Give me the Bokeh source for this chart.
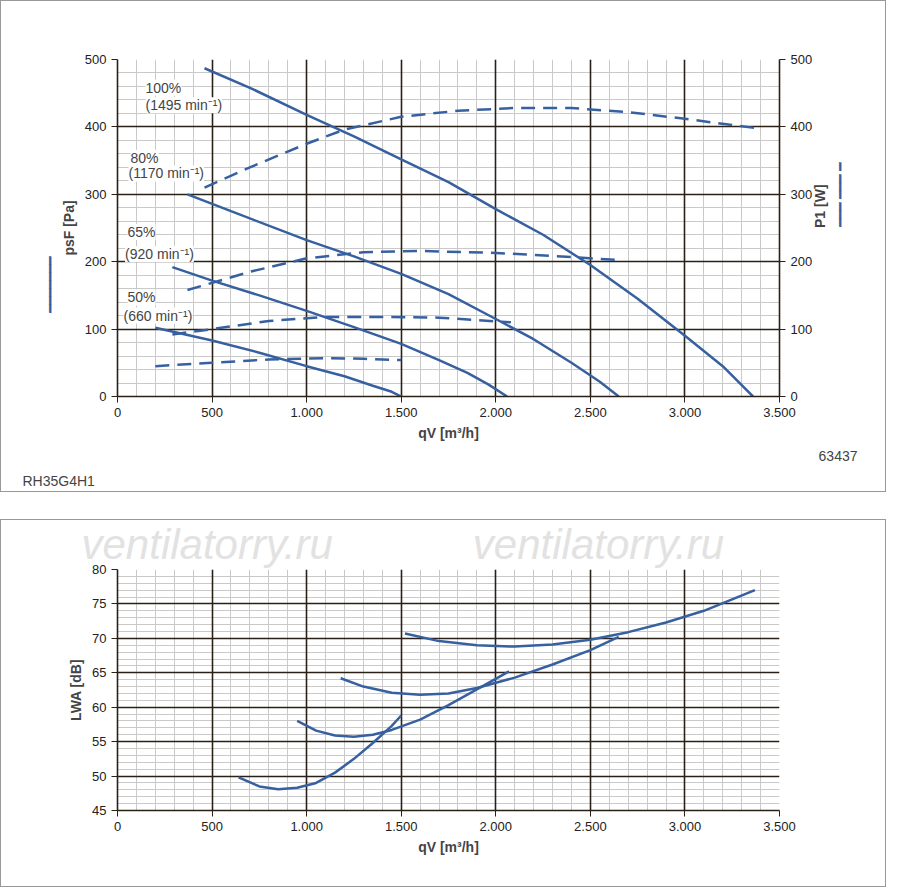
import math
from bokeh.plotting import figure
from bokeh.layouts import column
from bokeh.models import Label, LinearAxis, Range1d, FixedTicker, Grid, Title
from bokeh.embed import file_html
from bokeh.resources import INLINE

# pressure curves (solid)
p100_x = [460, 700, 1000, 1250, 1500, 1750, 2000, 2250, 2500, 2750, 3000, 3200, 3360]
p100_y = [487, 458, 418, 386, 352, 318, 278, 240, 195, 145, 90, 45, 0]
p80_x = [370, 600, 1000, 1250, 1500, 1750, 2000, 2200, 2400, 2550, 2650]
p80_y = [300, 275, 232, 208, 182, 152, 115, 85, 50, 22, 0]
p65_x = [290, 500, 750, 1000, 1250, 1500, 1700, 1850, 1960, 2060]
p65_y = [192, 172, 150, 127, 103, 78, 54, 35, 18, 0]
p50_x = [200, 500, 750, 1000, 1200, 1350, 1450, 1500]
p50_y = [102, 83, 65, 45, 30, 16, 7, 0]
# power curves (dashed)
w100_x = [460, 700, 1000, 1200, 1500, 1800, 2100, 2400, 2700, 3000, 3380]
w100_y = [310, 340, 375, 396, 415, 424, 428, 428, 422, 412, 398]
w80_x = [370, 700, 1000, 1300, 1600, 2000, 2400, 2670]
w80_y = [158, 185, 205, 214, 216, 213, 207, 202]
w65_x = [290, 500, 800, 1100, 1400, 1700, 2080]
w65_y = [92, 100, 112, 118, 118, 117, 110]
w50_x = [200, 500, 800, 1100, 1300, 1500]
w50_y = [45, 50, 55, 57, 56, 54]
# sound power
s1_x = [1520, 1700, 1900, 2100, 2300, 2500, 2700, 2900, 3100, 3370]
s1_y = [70.7, 69.6, 69.0, 68.8, 69.1, 69.8, 70.9, 72.3, 74.0, 77.0]
s2_x = [1180, 1300, 1450, 1600, 1750, 1900, 2100, 2300, 2500, 2650]
s2_y = [64.2, 63.0, 62.1, 61.8, 62.0, 62.8, 64.3, 66.2, 68.3, 70.2]
s3_x = [950, 1050, 1150, 1250, 1350, 1450, 1600, 1750, 1900, 2070]
s3_y = [58.0, 56.6, 55.9, 55.7, 56.0, 56.7, 58.2, 60.3, 62.6, 65.2]
s4_x = [640, 750, 850, 950, 1050, 1150, 1250, 1350, 1450, 1500]
s4_y = [49.8, 48.5, 48.1, 48.3, 49.0, 50.5, 52.5, 54.8, 57.3, 58.8]

speed_labels = ["100%", "(1495 min⁻¹)", "80%", "(1170 min⁻¹)",
                "65%", "(920 min⁻¹)", "50%", "(660 min⁻¹)"]
xticks = [0, 500, 1000, 1500, 2000, 2500, 3000, 3500]
xlabels = ["0", "500", "1.000", "1.500", "2.000", "2.500", "3.000", "3.500"]
BLUE = "#3760a0"
FONT = "Liberation Sans"
MAJ = "#2a2016"
MIN = "#c9c9c9"
NB = "\u00a0"

def setup(p, ymaj, ymin):
    xt = FixedTicker(ticks=xticks, minor_ticks=list(range(0, 3501, 100)))
    yt = FixedTicker(ticks=ymaj, minor_ticks=ymin)
    p.xaxis[0].ticker = xt
    p.xaxis[0].major_label_overrides = {t: l for t, l in zip(xticks, xlabels)}
    p.yaxis[0].ticker = yt
    p.xgrid[0].ticker = xt
    p.ygrid[0].ticker = yt
    for g in (p.xgrid[0], p.ygrid[0]):
        g.grid_line_color = None
        g.minor_grid_line_color = MIN
        g.minor_grid_line_width = 1
    for dim, t in ((0, xt), (1, yt)):
        p.add_layout(Grid(dimension=dim, ticker=t, grid_line_color=MAJ, grid_line_width=1.6))

def style_axes(p):
    for ax in p.axis:
        ax.major_label_text_font = FONT
        ax.major_label_text_font_size = "13px"
        ax.major_label_text_color = "#222"
        ax.axis_line_color = MAJ
        ax.axis_line_width = 1.6
        ax.major_tick_line_color = MAJ
        ax.major_tick_in = 0
        ax.major_tick_out = 6
        ax.minor_tick_line_color = None
        ax.axis_label_text_font = FONT
        ax.axis_label_text_font_style = "bold"
        ax.axis_label_text_font_size = "14px"
    p.outline_line_color = None

def marker_axis(p, side, label, rng=None):
    kw = {"y_range_name": rng} if rng else {}
    ax = LinearAxis(axis_label=label, axis_line_color=None, major_tick_line_color=None,
                    minor_tick_line_color=None, ticker=FixedTicker(ticks=[]),
                    axis_label_text_color=BLUE, axis_label_text_font_size="14px",
                    axis_label_standoff=0, major_label_standoff=0, **kw)
    if side == "right":
        ax.axis_label_orientation = math.pi / 2
        ax.axis_label_text_align = "center"
    p.add_layout(ax, side)
    return ax

top = figure(width=886, height=492, x_range=Range1d(0, 3500), y_range=Range1d(0, 500),
             output_backend="svg", toolbar_location=None, min_border_left=116,
             min_border_right=108, min_border_top=58, min_border_bottom=88,
             styles={"border": "1px solid #999", "box-sizing": "border-box"})
setup(top, list(range(0, 501, 100)), list(range(0, 501, 20)))
top.extra_y_ranges = {"w": Range1d(0, 500)}
rax = LinearAxis(y_range_name="w", ticker=FixedTicker(ticks=list(range(0, 501, 100))),
                 axis_label="P1 [W]", axis_label_orientation=math.pi / 2)
top.add_layout(rax, "right")
style_axes(top)
rax.axis_label_text_align = "center"
top.yaxis[0].axis_label = "psF [Pa]"
top.xaxis[0].axis_label = "qV [m³/h]"
marker_axis(top, "left", "━━━━━━━" + NB * 30)
marker_axis(top, "right", "━━━ ━━━ ━" + NB * 30, "w")
top.add_layout(Title(text="63437", align="right", text_font=FONT,
                     text_font_size="14px", text_font_style="normal", offset=-78), "below")
top.add_layout(Title(text="RH35G4H1", align="left", text_font=FONT, text_font_size="14px",
                     text_font_style="normal", offset=-95), "below")
for xs, ys in [(p100_x, p100_y), (p80_x, p80_y), (p65_x, p65_y), (p50_x, p50_y)]:
    top.line(xs, ys, line_color=BLUE, line_width=2.5)
for xs, ys in [(w100_x, w100_y), (w80_x, w80_y), (w65_x, w65_y), (w50_x, w50_y)]:
    top.line(xs, ys, line_color=BLUE, line_width=2.5, line_dash="14 8", y_range_name="w")
pos = [(148, 458), (148, 432), (69, 354), (58, 331), (53, 244), (40, 211), (53, 147), (32, 120)]
for (x, y), t in zip(pos, speed_labels):
    top.add_layout(Label(x=x, y=y, text=t, text_font=FONT, text_font_size="14px",
                         background_fill_color="white", text_baseline="middle"))

bot = figure(width=886, height=368, x_range=Range1d(0, 3500), y_range=Range1d(45, 80),
             output_backend="svg", toolbar_location=None, min_border_left=116,
             min_border_right=108, min_border_top=49, min_border_bottom=78,
             styles={"border": "1px solid #999", "box-sizing": "border-box"})
setup(bot, list(range(45, 81, 5)), list(range(45, 81, 1)))
style_axes(bot)
bot.xaxis[0].axis_label = "qV [m³/h]"
bot.yaxis[0].axis_label = "LWA [dB]"
bot.add_layout(Title(text="ventilatorry.ru" + NB * 12 + "ventilatorry.ru", align="left",
                     text_font=FONT, text_font_style="italic", text_font_size="42px",
                     text_color="#e2e2e2", offset=-36, standoff=0, vertical_align="top"),
               "above")
for xs, ys in [(s1_x, s1_y), (s2_x, s2_y), (s3_x, s3_y), (s4_x, s4_y)]:
    bot.line(xs, ys, line_color=BLUE, line_width=2.5)

layout = column(top, bot, spacing=27)
open("out.html", "w").write(file_html(layout, INLINE))
